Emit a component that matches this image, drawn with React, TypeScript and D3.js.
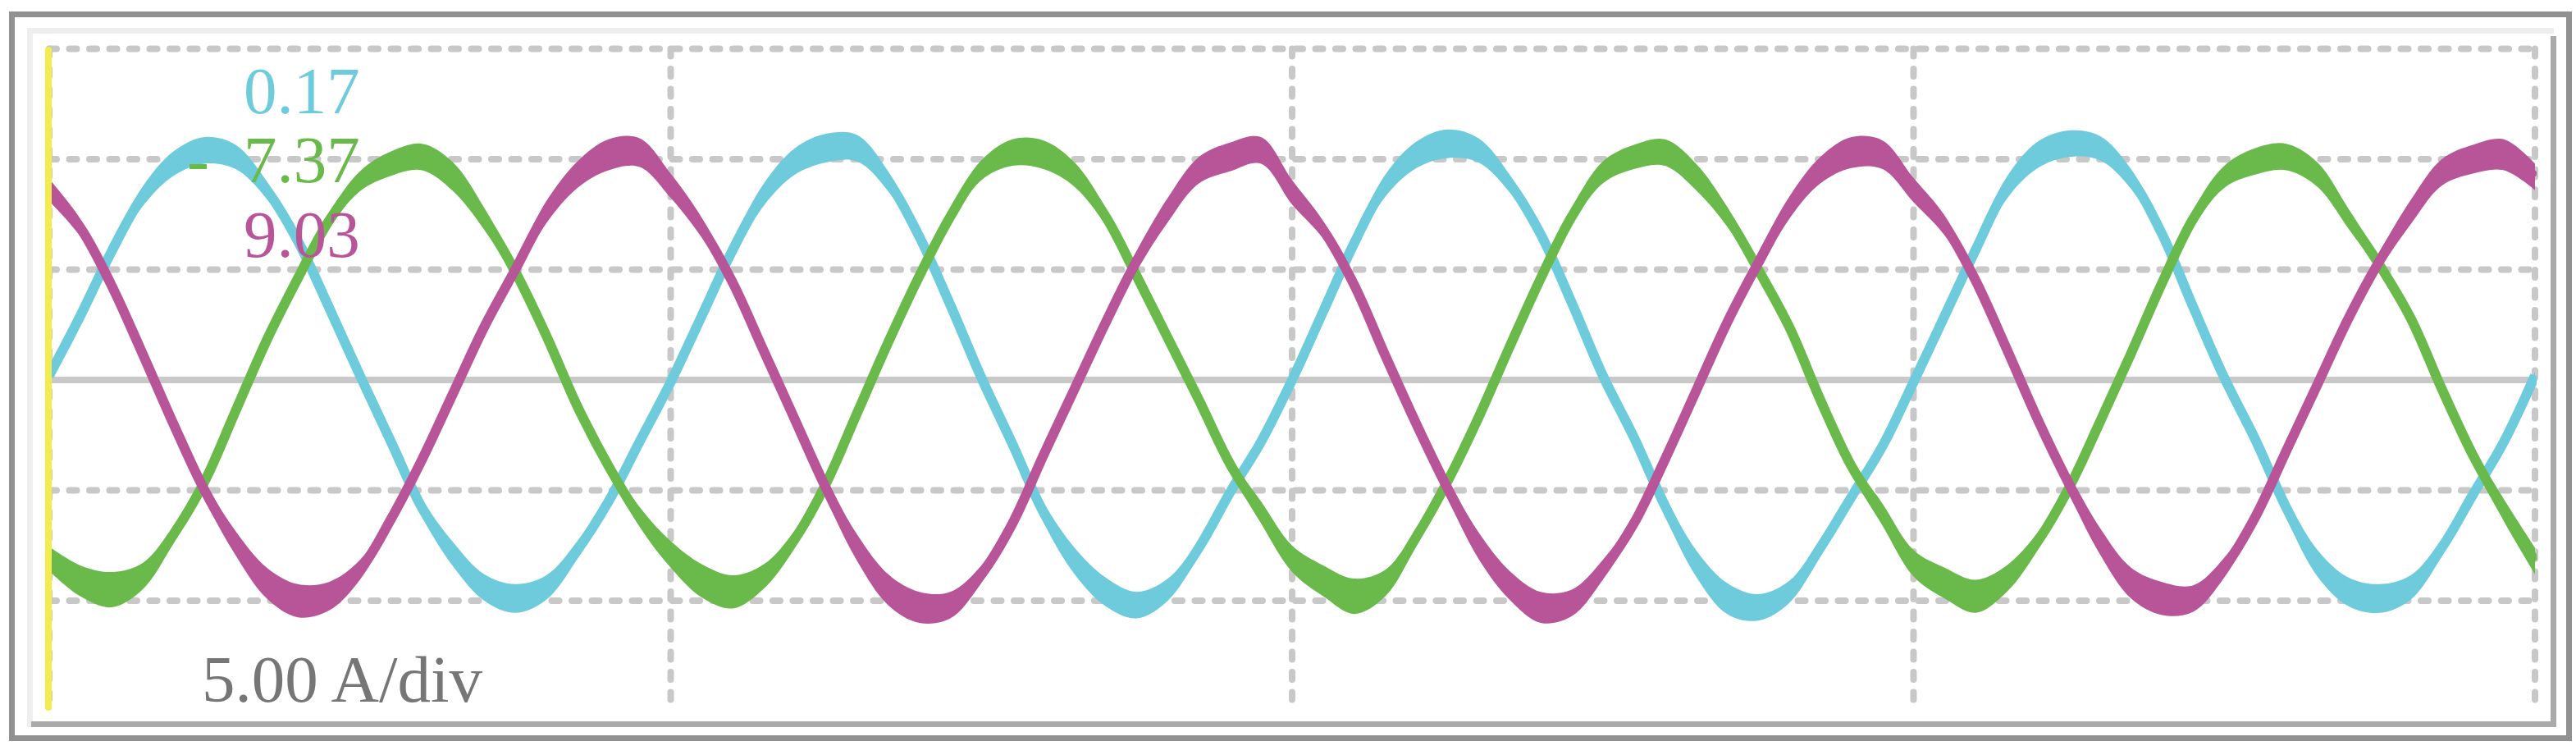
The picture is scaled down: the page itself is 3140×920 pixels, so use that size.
import * as d3 from 'd3';

// sample instants in ms, one per millisecond over the 4 divisions (20 ms/div)
const timeMs = d3.range(0, 81, 1);

const cyanCurrent = [
  0.2, 2.9, 5.8, 8.3, 9.8, 10.4, 10.1, 8.6, 6.3, 3.3, 0.2, -2.8, -5.8, -7.9, -9.4, -9.9, -9.4, -7.7, -5.5, -2.8,
  -0.1, 2.9, 5.9, 8.4, 9.9, 10.5, 10.5, 9.0, 6.5, 3.4, 0.1, -2.9, -6.0, -8.2, -9.6, -10.2, -9.5, -7.6, -5.1, -2.8,
  0.0, 3.1, 6.2, 8.8, 10.2, 10.7, 10.4, 8.9, 6.6, 3.5, 0.2, -2.6, -5.7, -8.3, -9.9, -10.3, -9.6, -7.6, -5.3, -3.0,
  -0.1, 2.9, 5.9, 8.7, 10.2, 10.7, 10.5, 9.1, 6.6, 3.3, 0.1, -2.7, -5.8, -8.3, -9.6, -9.9, -9.4, -7.6, -5.2, -2.8,
  0.2,
];
const greenCurrent = [
  -8.1, -9.1, -9.5, -8.9, -7.0, -4.6, -1.4, 1.8, 4.6, 7.2, 9.0, 9.8, 10.1, 9.2, 7.3, 4.9, 2.0, -1.2, -3.9, -6.2,
  -7.9, -9.1, -9.6, -8.9, -7.2, -4.7, -1.5, 1.7, 4.7, 7.4, 9.5, 10.3, 10.2, 9.3, 7.4, 4.7, 1.9, -0.9, -3.8, -6.0,
  -8.1, -9.1, -9.8, -9.2, -7.1, -4.6, -1.7, 1.5, 4.6, 7.4, 9.4, 10.1, 10.3, 9.2, 7.4, 5.0, 2.4, -0.9, -3.9, -6.1,
  -8.3, -9.2, -9.8, -9.0, -7.3, -4.9, -1.9, 1.2, 4.4, 7.3, 9.2, 9.9, 10.1, 9.3, 7.3, 5.2, 2.8, -0.4, -3.4, -5.9,
  -8.2,
];
const magentaCurrent = [
  8.6, 6.9, 4.3, 1.2, -2.0, -5.0, -7.4, -9.2, -10.0, -9.8, -8.6, -6.3, -3.6, -0.6, 2.4, 5.0, 7.6, 9.3, 10.2, 10.3,
  8.8, 6.9, 4.4, 1.3, -1.8, -4.9, -7.6, -9.5, -10.3, -10.2, -8.8, -6.5, -3.4, -0.4, 2.6, 5.4, 7.7, 9.5, 10.1, 10.4,
  8.5, 6.8, 4.3, 1.1, -2.0, -4.9, -7.5, -9.3, -10.3, -10.1, -8.6, -6.5, -3.6, -0.5, 2.6, 5.3, 7.8, 9.5, 10.3, 10.2,
  8.6, 7.0, 4.5, 1.4, -1.8, -4.7, -7.3, -9.2, -9.9, -9.9, -8.5, -6.2, -3.2, -0.2, 2.8, 5.4, 7.6, 9.4, 10.0, 10.2,
  9.2,
];

// half height of the switching ripple band, A
const cyanRipple = [
  0.15, 0.25, 0.35, 0.45, 0.55, 0.6, 0.55, 0.4, 0.3, 0.2, 0.15, 0.25, 0.4, 0.55, 0.6, 0.65, 0.55, 0.4, 0.3, 0.2,
  0.15, 0.25, 0.4, 0.5, 0.6, 0.65, 0.6, 0.45, 0.3, 0.2, 0.15, 0.25, 0.45, 0.6, 0.65, 0.6, 0.5, 0.35, 0.25, 0.2,
  0.15, 0.25, 0.35, 0.5, 0.6, 0.65, 0.55, 0.4, 0.25, 0.2, 0.15, 0.3, 0.45, 0.6, 0.7, 0.6, 0.5, 0.4, 0.3, 0.2,
  0.15, 0.25, 0.4, 0.5, 0.6, 0.6, 0.55, 0.45, 0.3, 0.2, 0.15, 0.25, 0.45, 0.6, 0.65, 0.65, 0.55, 0.4, 0.3, 0.2,
  0.15,
];
const greenRipple = [
  0.55, 0.7, 0.8, 0.6, 0.4, 0.3, 0.2, 0.2, 0.3, 0.35, 0.45, 0.55, 0.6, 0.65, 0.5, 0.35, 0.2, 0.2, 0.3, 0.45,
  0.6, 0.75, 0.75, 0.55, 0.4, 0.25, 0.2, 0.25, 0.35, 0.4, 0.45, 0.6, 0.65, 0.55, 0.4, 0.3, 0.2, 0.2, 0.3, 0.5,
  0.6, 0.7, 0.8, 0.6, 0.4, 0.3, 0.2, 0.2, 0.3, 0.4, 0.5, 0.55, 0.6, 0.6, 0.45, 0.3, 0.2, 0.25, 0.35, 0.5,
  0.6, 0.7, 0.75, 0.6, 0.4, 0.3, 0.2, 0.25, 0.3, 0.4, 0.5, 0.6, 0.6, 0.55, 0.45, 0.3, 0.25, 0.25, 0.35, 0.5,
  0.6,
];
const magentaRipple = [
  0.5, 0.4, 0.3, 0.2, 0.25, 0.4, 0.55, 0.7, 0.75, 0.65, 0.45, 0.3, 0.2, 0.2, 0.3, 0.4, 0.5, 0.6, 0.7, 0.65,
  0.55, 0.45, 0.3, 0.2, 0.3, 0.45, 0.6, 0.7, 0.7, 0.6, 0.4, 0.3, 0.2, 0.2, 0.3, 0.45, 0.55, 0.6, 0.65, 0.6,
  0.55, 0.4, 0.3, 0.2, 0.3, 0.45, 0.6, 0.65, 0.7, 0.6, 0.45, 0.3, 0.2, 0.2, 0.3, 0.45, 0.5, 0.6, 0.7, 0.65,
  0.55, 0.45, 0.3, 0.2, 0.25, 0.45, 0.6, 0.7, 0.75, 0.6, 0.45, 0.3, 0.2, 0.2, 0.3, 0.4, 0.55, 0.6, 0.65, 0.7,
  0.6,
];

// cursor readouts (top left) and the scale note
const readoutLabels = ['0.17', '-7.37', '9.03'];
const scaleLabel = '5.00 A/div';

// grid
const gridLevels = [15, 10, 5, -5, -10];
const gridTimes = [0, 20, 40, 60, 80];

const COLORS = ['#6dcbdb', '#6ab94b', '#b75598'];
const GRID = '#c8c8c8';
const FONT = '"Liberation Serif", "Times New Roman", serif';

const traces = [
  { values: cyanCurrent, ripple: cyanRipple, color: COLORS[0] },
  { values: greenCurrent, ripple: greenRipple, color: COLORS[1] },
  { values: magentaCurrent, ripple: magentaRipple, color: COLORS[2] },
];

export default function App() {
  const width = 3140;
  const height = 920;

  const x = d3.scaleLinear().domain([0, 80]).range([60, 3090]);
  const y = d3.scaleLinear().domain([-15, 15]).range([866.5, 59.5]);

  const curve = d3.curveCatmullRom.alpha(0.5);

  const readoutY = [138, 222, 313];

  return (
    <svg
      width={width}
      height={height}
      style={{ position: 'absolute', left: 0, top: 0, background: '#fff' }}
    >
      <defs>
        <clipPath id="plot-clip">
          <rect x={61} y={40} width={3031} height={840} />
        </clipPath>
      </defs>
      <rect x={0} y={0} width={width} height={height} fill="#fff" />

      {/* outer frame */}
      <rect x={14.5} y={17.5} width={3117} height={882} fill="none" stroke="#919191" strokeWidth={7} />
      {/* inner bevel */}
      <line x1={33} y1={37.5} x2={3113} y2={37.5} stroke="#eeeeee" strokeWidth={7} />
      <line x1={36.5} y1={34} x2={36.5} y2={886} stroke="#eeeeee" strokeWidth={7} />
      <line x1={3112.5} y1={44} x2={3112.5} y2={886} stroke="#aaaaaa" strokeWidth={7} />
      <line x1={38} y1={882.5} x2={3116} y2={882.5} stroke="#aaaaaa" strokeWidth={7} />

      {/* grid */}
      {gridLevels.map((v) => (
        <line
          key={'h' + v}
          x1={x(0)}
          x2={x(80)}
          y1={y(v)}
          y2={y(v)}
          stroke={GRID}
          strokeWidth={8}
          strokeLinecap="round"
          strokeDasharray="9 15.5"
        />
      ))}
      {gridTimes.map((t) => (
        <line
          key={'v' + t}
          x1={x(t)}
          x2={x(t)}
          y1={y(15)}
          y2={y(-15) - 4}
          stroke={GRID}
          strokeWidth={8}
          strokeLinecap="round"
          strokeDasharray="9 15.5"
        />
      ))}
      <line x1={x(0)} x2={x(80)} y1={y(0)} y2={y(0)} stroke={GRID} strokeWidth={8} />

      {/* phase currents */}
      <g clipPath="url(#plot-clip)">
        {traces.map((s, k) => {
          const band = d3
            .area<number>()
            .x((_, i) => x(timeMs[i]))
            .y0((v, i) => y(v - s.ripple[i]))
            .y1((v, i) => y(v + s.ripple[i]))
            .curve(curve);
          const mid = d3
            .line<number>()
            .x((_, i) => x(timeMs[i]))
            .y((v) => y(v))
            .curve(curve);
          return (
            <g key={k}>
              <path d={band(s.values) ?? ''} fill={s.color} />
              <path
                d={mid(s.values) ?? ''}
                fill="none"
                stroke={s.color}
                strokeWidth={12}
                strokeLinejoin="round"
              />
            </g>
          );
        })}
      </g>

      {/* cursor readouts */}
      {readoutLabels.map((label, i) => {
        const neg = label.startsWith('-');
        return (
          <text
            key={label}
            y={readoutY[i]}
            fill={COLORS[i]}
            fontFamily={FONT}
            fontSize={81}
          >
            {neg && <tspan x={228}>-</tspan>}
            <tspan x={297}>{neg ? label.slice(1) : label}</tspan>
          </text>
        );
      })}

      <text x={246} y={855} fill="#767676" fontFamily={FONT} fontSize={81}>
        {scaleLabel}
      </text>

      {/* trigger cursor */}
      <line
        x1={59}
        x2={59}
        y1={61}
        y2={862}
        stroke="#f4eb4f"
        strokeWidth={8}
        strokeLinecap="round"
      />
    </svg>
  );
}
